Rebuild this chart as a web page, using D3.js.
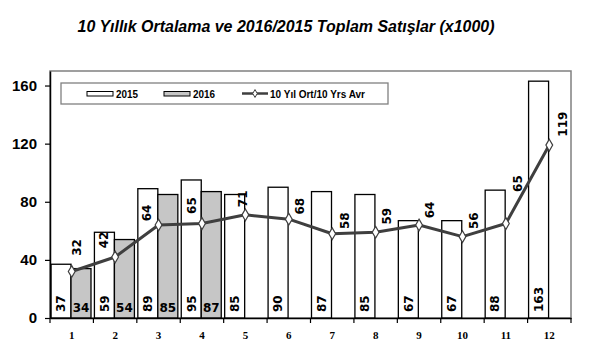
<!DOCTYPE html>
<html><head><meta charset="utf-8">
<script src="https://cdn.jsdelivr.net/npm/d3@7"></script>
<style>body{margin:0;background:#fff;}svg{display:block;}</style>
</head><body>
<svg id="chart" width="594" height="352"></svg>
<script>
const months = ["1","2","3","4","5","6","7","8","9","10","11","12"];
const sales2015 = [37,59,89,95,85,90,87,85,67,67,88,163];
const sales2016 = [34,54,85,87];
const avg10 = [32,42,64,65,71,68,58,59,64,56,65,119];
const yTicks = [0,40,80,120,160];
const seriesNames = ["2015","2016","10 Yıl Ort/10 Yrs Avr"];
const title = "10 Yıllık Ortalama ve 2016/2015 Toplam Satışlar (x1000)";
// label placement tweaks for average-line labels (dx, dy from point)
const avgLabelDx = [5,-11,-12,-10,-3,11,12,11,11,11,12,13];
const avgLabelDy = [-24,-17,-12,-18,-16,-13,-13,-16,-15,-16,-40,-21];

const svg = d3.select("#chart");
const L = 50, R = 571, T = 71, B = 318;
const x = d3.scaleBand().domain(months).range([L, R]).padding(0);
const xs = d3.scaleBand().domain(["2015","2016"]).range([1, 41]).padding(0);
const y = d3.scaleLinear().domain([0,170]).range([B, T]);
const lineColor = "#3f3f3f";
const fill16 = "#c6c6c6";
const numFont = "'DejaVu Sans', Verdana, sans-serif";

// title
svg.append("text").attr("x", 286).attr("y", 32).attr("text-anchor","middle")
  .attr("font-family","'Liberation Sans', Arial, sans-serif").attr("font-weight","bold")
  .attr("font-style","italic").attr("font-size",16)
  .attr("textLength",417).attr("lengthAdjust","spacingAndGlyphs")
  .text(title);

// plot frame
svg.append("rect").attr("x",L).attr("y",T).attr("width",R-L).attr("height",B-T)
  .attr("fill","none").attr("stroke","#808080").attr("stroke-width",1.5);

// bars 2015
svg.append("g").selectAll("rect").data(sales2015).join("rect")
  .attr("x",(d,i)=>x(months[i])+xs("2015")).attr("width",xs.bandwidth())
  .attr("y",d=>y(d)).attr("height",d=>B-y(d))
  .attr("fill","#fff").attr("stroke","#000").attr("stroke-width",1.3);
// bars 2016
svg.append("g").selectAll("rect").data(sales2016).join("rect")
  .attr("x",(d,i)=>x(months[i])+xs("2016")).attr("width",xs.bandwidth())
  .attr("y",d=>y(d)).attr("height",d=>B-y(d))
  .attr("fill",fill16).attr("stroke","#000").attr("stroke-width",1.3);

// y axis
const yAxis = svg.append("g").attr("transform",`translate(${L},0)`)
  .call(d3.axisLeft(y).tickValues(yTicks).tickSize(5).tickPadding(8).tickSizeOuter(0));
yAxis.select(".domain").attr("stroke","#000").attr("stroke-width",1.5);
yAxis.selectAll("line").attr("stroke","#000").attr("stroke-width",1.2);
yAxis.selectAll("text").attr("font-family","'Liberation Sans', Arial, sans-serif")
  .attr("font-weight","bold").attr("font-size",15).attr("fill","#000");

// x axis
const xAxis = svg.append("g").attr("transform",`translate(0,${B})`)
  .call(d3.axisBottom(x).tickSize(0).tickPadding(13).tickSizeOuter(0));
xAxis.select(".domain").attr("stroke","#000").attr("stroke-width",1.5);
xAxis.selectAll("text").attr("font-family","'Liberation Serif', 'Times New Roman', serif")
  .attr("font-weight","bold").attr("font-size",11).attr("fill","#000");
svg.append("g").selectAll("line").data(months.concat(["end"])).join("line")
  .attr("x1",(d,i)=>L+i*x.bandwidth()).attr("x2",(d,i)=>L+i*x.bandwidth())
  .attr("y1",B).attr("y2",B+5).attr("stroke","#000").attr("stroke-width",1.2);

// bar labels 2015 (rotated)
svg.append("g").selectAll("text").data(sales2015).join("text")
  .attr("transform",(d,i)=>`translate(${x(months[i])+xs("2015")+xs.bandwidth()/2},312) rotate(-90)`)
  .attr("dy","0.36em").attr("text-anchor","start")
  .attr("font-family",numFont).attr("font-weight","bold").attr("font-size",12)
  .text(d=>d);
// bar labels 2016 (horizontal)
svg.append("g").selectAll("text").data(sales2016).join("text")
  .attr("x",(d,i)=>x(months[i])+xs("2016")+xs.bandwidth()/2).attr("y",312)
  .attr("text-anchor","middle")
  .attr("font-family",numFont).attr("font-weight","bold").attr("font-size",12)
  .text(d=>d);

// average line
const cx = i => x(months[i]) + x.bandwidth()/2;
svg.append("path").datum(avg10)
  .attr("d", d3.line().x((d,i)=>cx(i)).y(d=>y(d)))
  .attr("fill","none").attr("stroke",lineColor).attr("stroke-width",3).attr("stroke-linejoin","round");
svg.append("g").selectAll("path").data(avg10).join("path")
  .attr("transform",(d,i)=>`translate(${cx(i)},${y(d)})`)
  .attr("d", d3.symbol(d3.symbolDiamond, 40))
  .attr("fill","#fff").attr("stroke",lineColor).attr("stroke-width",1.2);
svg.append("g").selectAll("text").data(avg10).join("text")
  .attr("transform",(d,i)=>`translate(${cx(i)+avgLabelDx[i]},${y(d)+avgLabelDy[i]}) rotate(-90)`)
  .attr("dy","0.36em").attr("text-anchor","middle")
  .attr("font-family",numFont).attr("font-weight","bold").attr("font-size",12)
  .text(d=>d);

// legend
const lg = svg.append("g");
lg.append("rect").attr("x",61).attr("y",83).attr("width",327).attr("height",21)
  .attr("fill","#fff").attr("stroke","#808080").attr("stroke-width",1.3);
const legFont = "'Liberation Sans', Arial, sans-serif";
const legItems = [{sx:87, tx:116, tl:22},{sx:164, tx:193, tl:22},{sx:242, tx:270, tl:95}];
legItems.forEach((it,k)=>{
  if(k<2){
    lg.append("rect").attr("x",it.sx).attr("y",91.5).attr("width",26).attr("height",4.5)
      .attr("fill",k===0?"#fff":fill16).attr("stroke","#000").attr("stroke-width",1);
  } else {
    lg.append("line").attr("x1",it.sx).attr("x2",it.sx+26).attr("y1",93.5).attr("y2",93.5)
      .attr("stroke",lineColor).attr("stroke-width",2.5);
    lg.append("path").attr("transform",`translate(${it.sx+13},93.5)`)
      .attr("d",d3.symbol(d3.symbolDiamond,18)).attr("fill","#fff").attr("stroke",lineColor).attr("stroke-width",1);
  }
  lg.append("text").attr("x",it.tx).attr("y",97.5)
    .attr("font-family",legFont).attr("font-weight","bold").attr("font-size",11)
    .attr("textLength",it.tl).attr("lengthAdjust","spacingAndGlyphs")
    .text(seriesNames[k]);
});
</script>
</body></html>
